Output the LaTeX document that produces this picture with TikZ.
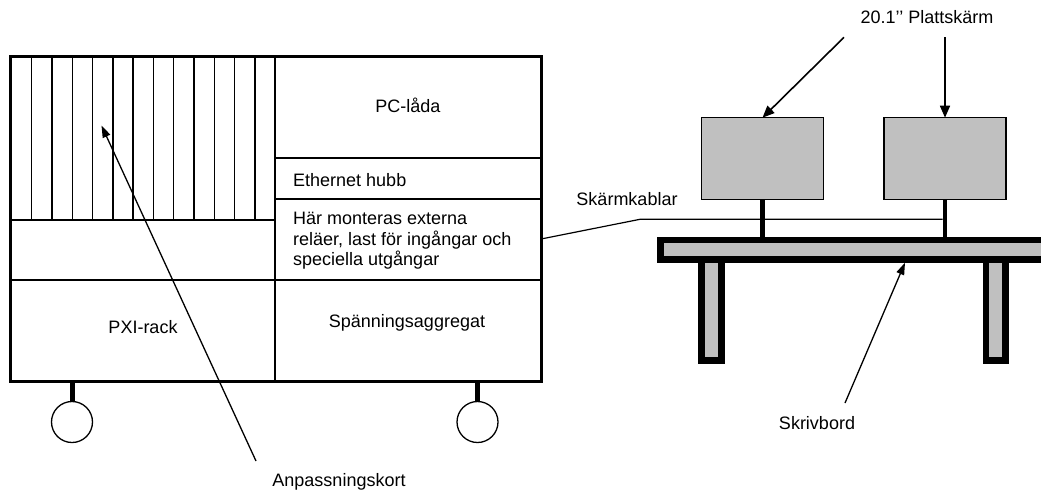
\documentclass[tikz,border=0pt]{standalone}
\usepackage{fontspec}
\setmainfont{Liberation Sans}
\usetikzlibrary{arrows.meta}
\definecolor{deskgray}{RGB}{192,192,192}
\begin{document}
\begin{tikzpicture}[x=1pt,y=-1pt,
  font=\fontsize{18}{20.5}\selectfont,
  txt/.style={inner sep=0pt},
  frame/.style={draw,line width=3pt,inner sep=0pt,outer sep=0pt},
  part/.style={line width=1.8pt},
  card/.style={line width=1.4pt},
  pointer/.style={line width=1.6pt,-{Triangle[length=12pt,width=10pt]}},
  thinptr/.style={line width=1.3pt,-{Triangle[length=12pt,width=8pt]}},
  screen/.style={draw,fill=deskgray,line width=1.5pt,inner sep=0pt,outer sep=0pt,
                 minimum width=121.6pt,minimum height=81.6pt},
  desk/.style={draw,fill=deskgray,line width=6.5pt},
  stand/.style={line width=4.6pt},
  wheel/.style={draw,circle,line width=1.3pt,minimum size=41pt,inner sep=0pt,outer sep=0pt},
  axle/.style={line width=5pt},
  cable/.style={line width=1.2pt}
]
\useasboundingbox (0,0) rectangle (1041,491);

% ---------- rack ----------
\node[frame,minimum width=531pt,minimum height=325pt] (rack) at (275.5,219.2) {};
\coordinate (divT) at (275,57);
\coordinate (divB) at (275,381.7);
\draw[part] (divT) -- (divB);
\draw[part] (275,158.3) -- (541,158.3);
\draw[part] (275,199.3) -- (541,199.3);
\draw[part] (10,280) -- (541,280);
\draw[part] (11,220) -- (275,220);
\foreach \i in {0,...,11}{
  \draw[card] (31.6+\i*20.3,57) -- (31.6+\i*20.3,220);
}

\node[txt] (pc) at (408,105) {PC-låda};
\node[txt,anchor=west] (eth) at (293,180) {Ethernet hubb};
\node[txt,anchor=west,align=left] (rel) at (293,241)
  {Här monteras externa\\reläer, last för ingångar och\\speciella utgångar};
\node[txt] (pxi) at (143,327) {PXI-rack};
\node[txt] (psu) at (407,323) {Spänningsaggregat};

% wheels
\node[wheel] (w1) at (72,422) {};
\node[wheel] (w2) at (477.5,422) {};
\draw[axle] (w1.north) -- (w1.north |- rack.south);
\draw[axle] (w2.north) -- (w2.north |- rack.south);

% Anpassningskort
\node[txt] (anp) at (339,482) {Anpassningskort};
\coordinate (anpTail) at (256,461);
\coordinate (anpTip) at (101.5,125.5);
\draw[thinptr] (anpTail) -- (anpTip);

% ---------- desk ----------
\fill[deskgray] (660.7,240) rectangle (1041,259.3);
\draw[line width=6.5pt] (1041,240) -- (660.7,240) -- (660.7,259.3) -- (1041,259.3);
\draw[desk] (701.7,259.3) rectangle (721.7,360.5);
\draw[desk] (986,259.3) rectangle (1005.7,360.5);
\coordinate (deskTop) at (800,237);

% monitors
\node[screen] (m1) at (762.5,158.5) {};
\node[screen] (m2) at (945,158.5) {};
\draw[stand] (m1.south) -- (m1.south |- deskTop);
\draw[stand] (m2.south) -- (m2.south |- deskTop);

\node[txt] (plat) at (927,17) {20.1’’ Plattskärm};
\coordinate (p1) at (844,37.3);
\coordinate (p2) at (945,37.3);
\draw[pointer] (p1) -- (m1.north);
\draw[pointer] (p2) -- (m2.north);

% cable
\node[txt] (kab) at (627,199) {Skärmkablar};
\coordinate (cabStart) at (rack.east |- 0,239);
\coordinate (cabBend) at (640,219.3);
\coordinate (cabEnd) at (942.7,219.3);
\draw[cable] (cabStart) -- (cabBend) -- (cabEnd);

% Skrivbord
\node[txt] (skr) at (817,423) {Skrivbord};
\coordinate (skrTail) at (845,403);
\coordinate (skrTip) at (905,262.7);
\draw[thinptr] (skrTail) -- (skrTip);
\end{tikzpicture}
\end{document}
